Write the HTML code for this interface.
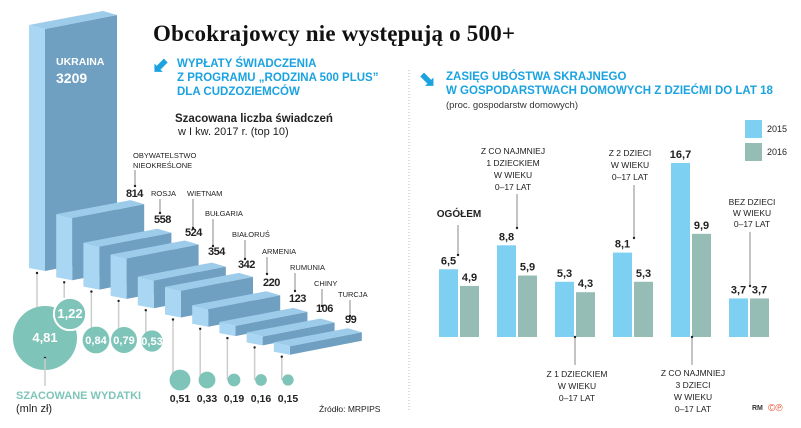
<!DOCTYPE html>
<html><head><meta charset="utf-8"><style>
body{margin:0;background:#fff}
svg{display:block;font-family:"Liberation Sans",sans-serif}
</style></head><body>
<svg id="c" width="801" height="428" viewBox="0 0 801 428">
<text x="153" y="41" font-family="Liberation Serif,serif" font-weight="bold" font-size="23" textLength="362" fill="#111">Obcokrajowcy nie występują o 500+</text>
<g fill="#1aa3e0" font-weight="bold" font-size="11.5">
<text x="152" y="72" font-size="20">⬋</text>
<text x="177" y="67">WYPŁATY ŚWIADCZENIA</text>
<text x="177" y="81">Z PROGRAMU „RODZINA 500 PLUS”</text>
<text x="177" y="95">DLA CUDZOZIEMCÓW</text>
</g>
<text x="175" y="122" font-size="11.5" font-weight="bold" fill="#222">Szacowana liczba świadczeń</text>
<text x="178" y="135" font-size="11" fill="#222">w I kw. 2017 r. (top 10)</text>
<line x1="409" y1="70" x2="409" y2="412" stroke="#bbb" stroke-dasharray="1,2"/>
<g fill="#1aa3e0" font-weight="bold" font-size="11.5">
<text x="419" y="86" font-size="20">⬊</text>
<text x="446" y="80">ZASIĘG UBÓSTWA SKRAJNEGO</text>
<text x="446" y="94">W GOSPODARSTWACH DOMOWYCH Z DZIEĆMI DO LAT 18</text>
</g>
<text x="446" y="108" font-size="9.5" fill="#333">(proc. gospodarstw domowych)</text>
<g id="left"></g>
<g id="right"></g>
<text x="16" y="399" font-size="11" font-weight="bold" fill="#7fc4b8">SZACOWANE WYDATKI</text>
<text x="16" y="412" font-size="11" fill="#222">(mln zł)</text>
<text x="319" y="412" font-size="8.5" fill="#222">Źródło: MRPIPS</text>
<text x="752" y="410" font-size="7" font-weight="bold" fill="#333">RM</text>
<text x="768" y="411" font-size="10" fill="#e53">©℗</text>
</svg>
<script>
const countries=["UKRAINA","OBYWATELSTWO NIEOKREŚLONE","ROSJA","WIETNAM","BUŁGARIA","BIAŁORUŚ","ARMENIA","RUMUNIA","CHINY","TURCJA"];
const benefits=[3209,814,558,524,354,342,220,123,106,99];
const spending=[4.81,1.22,0.84,0.79,0.53,0.51,0.33,0.19,0.16,0.15];
const categories=["OGÓŁEM","Z CO NAJMNIEJ 1 DZIECKIEM","Z 1 DZIECKIEM","Z 2 DZIECI","Z CO NAJMNIEJ 3 DZIECI","BEZ DZIECI"];
const v2015=[6.5,8.8,5.3,8.1,16.7,3.7];
const v2016=[4.9,5.9,4.3,5.3,9.9,3.7];
const years=["2015","2016"];

const NS="http://www.w3.org/2000/svg";
function mk(p,t,a,txt){const e=document.createElementNS(NS,t);for(const k in a)e.setAttribute(k,a[k]);if(txt!=null)e.textContent=txt;p.appendChild(e);return e;}
const fmt=v=>String(v).replace('.',',');
const L=document.getElementById('left');
const bx=i=>29+27.2*i, bb=i=>268+9.3*i, bh=v=>v*241/3209;
const circ=[[45,338],[70,314],[96,340],[124,340],[152,341],[180,380],[207,380],[234,380],[261,380],[288,380]];
const rr=v=>14.6*Math.sqrt(v);
for(let i=0;i<benefits.length;i++){
  const x=bx(i),yb=bb(i);
  const [cx,cy]=circ[i];
  const ln=mk(L,'line',{x1:x+8,y1:yb+5,x2:x+8,y2:cy,stroke:'#ccc','stroke-width':1.5});
  
  
}
for(let i=0;i<benefits.length;i++){
  const x=bx(i),yb=bb(i),yt=yb-bh(benefits[i])-2;
  const g=mk(L,'g',{});
  
  
  mk(g,'polygon',{points:`${x+16},${yt+4} ${x+88},${yt-10} ${x+88},${yb-11} ${x+16},${yb+3}`,fill:'#6f9fc1'});
  mk(g,'polygon',{points:`${x},${yt} ${x+74},${yt-14} ${x+88},${yt-10} ${x+16},${yt+4}`,fill:'#9dcbea'});
  mk(g,'polygon',{points:`${x},${yt} ${x+16},${yt+4} ${x+16},${yb+3} ${x},${yb}`,fill:'#a9d6f2'});
  mk(g,'circle',{cx:x+8,cy:yb+5,r:1.2,fill:'#222'});
}
for(let i=0;i<spending.length;i++){
  const [cx,cy]=circ[i];
  const c=mk(L,'circle',{cx:cx,cy:cy,r:rr(spending[i]),fill:'#7fc4b8',stroke:i==1?'#fff':'none','stroke-width':2});
  
  
  let t;
  if(i<5) t=mk(L,'text',{x:cx,y:cy+4,'text-anchor':'middle','font-weight':'bold','font-size':i<2?13:11,fill:'#fff'},fmt(spending[i]));
  else t=mk(L,'text',{x:cx,y:402,'text-anchor':'middle','font-weight':'bold','font-size':10.5,fill:'#222'},fmt(spending[i]));
  
  
}
mk(L,'circle',{cx:45,cy:358,r:1.2,fill:'#222'});
mk(L,'line',{x1:45,y1:358,x2:45,y2:386,stroke:'#ccc','stroke-width':1.5});
const uk=mk(L,'text',{x:56,y:65,'font-weight':'bold','font-size':10.5,fill:'#fff'},'UKRAINA');


const uv=mk(L,'text',{x:56,y:83,'font-weight':'bold','font-size':14,fill:'#fff'},fmt(benefits[0]));


const lab=[null,[133,135,170,186,126,197],[151,160,199,213,154,223],[187,193,199,228,185,236],[205,213,219,246,208,255],[232,245,240,259,238,268],[262,267,257,274,263,286],[290,295,273,291,289,302],[314,322,289,306,316,312],[338,350,300,316,345,323]];
for(let i=1;i<countries.length;i++){
  const [tx,lx,l1,l2,vx,vy]=lab[i];
  let t;
  if(i==1){t=mk(L,'text',{x:tx,y:158,'font-size':7.5,fill:'#222'});
    mk(t,'tspan',{x:tx},'OBYWATELSTWO');mk(t,'tspan',{x:tx,dy:10},'NIEOKREŚLONE');}
  else t=mk(L,'text',{x:tx,y:l1-3,'font-size':7.5,fill:'#222'},countries[i]);
  
  
  mk(L,'line',{x1:lx,y1:l1,x2:lx,y2:l2,stroke:'#555','stroke-width':0.7});
  mk(L,'circle',{cx:lx,cy:l2,r:1.2,fill:'#222'});
  const v=mk(L,'text',{x:vx,y:vy,'font-size':11,'font-weight':'bold','letter-spacing':'-0.5',fill:'#222'},fmt(benefits[i]));
  
  
}
const R=document.getElementById('right');
const base=337, sy=v=>base-v*10.42, gx=i=>439+58*i, bw=19;
for(let i=0;i<categories.length;i++){
  [[v2015,'#7dd0f2',0],[v2016,'#95bdb5',21]].forEach(([arr,col,off],k)=>{
    const r=mk(R,'rect',{x:gx(i)+off,y:sy(arr[i]),width:bw,height:base-sy(arr[i]),fill:col});
    
    
    const t=mk(R,'text',{x:gx(i)+off+bw/2,y:sy(arr[i])-5,'text-anchor':'middle','font-size':11,'font-weight':'bold',fill:'#222'},fmt(arr[i]));
    
    
  });
}
const clab=[[459,[217],['OGÓŁEM'],458,225,255],[513,[154,166,178,190],['Z CO NAJMNIEJ','1 DZIECKIEM','W WIEKU','0–17 LAT'],517,194,228],
[577,[377,389,401],['Z 1 DZIECKIEM','W WIEKU','0–17 LAT'],575,337,365],[630,[156,168,180],['Z 2 DZIECI','W WIEKU','0–17 LAT'],634,185,238],
[693,[376,388,400,412],['Z CO NAJMNIEJ','3 DZIECI','W WIEKU','0–17 LAT'],692,337,365],[752,[205,216,227],['BEZ DZIECI','W WIEKU','0–17 LAT'],750,232,286]];
clab.forEach(([cx,ys,ls,lx,l1,l2],i)=>{
  const t=mk(R,'text',{'text-anchor':'middle','font-size':i==0?10:8.5,'font-weight':i==0?'bold':'normal',fill:'#222'});
  ls.forEach((s,j)=>mk(t,'tspan',{x:cx,y:ys[j]},s));
  
  
  mk(R,'line',{x1:lx,y1:l1,x2:lx,y2:l2,stroke:'#555','stroke-width':0.7});
  mk(R,'circle',{cx:lx,cy:(i==2||i==4)?l1:l2,r:1.2,fill:'#222'});
});
[['#7dd0f2',120],['#95bdb5',143]].forEach(([c,y],k)=>{
  const r=mk(R,'rect',{x:745,y:y,width:17,height:18,fill:c});
  
  
  const t=mk(R,'text',{x:767,y:y+12,'font-size':9,fill:'#222'},years[k]);
  
  
});
</script>
</body></html>
